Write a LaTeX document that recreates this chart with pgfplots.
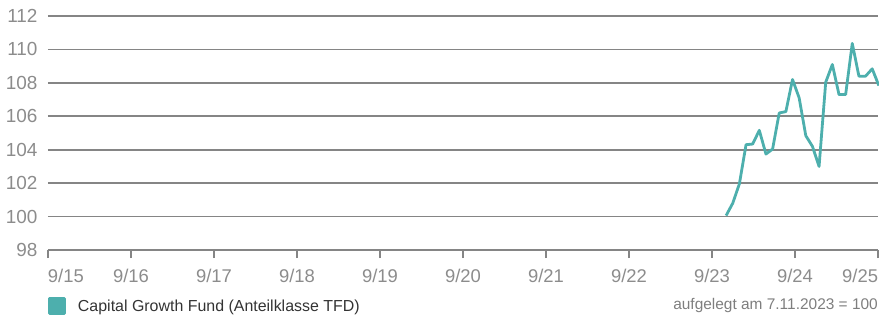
\documentclass[border=0pt]{standalone}
\usepackage{pgfplots}
\pgfplotsset{compat=1.18}
\usepackage{fontspec}
\setmainfont{Liberation Sans}
\usetikzlibrary{calc}
\definecolor{teal1}{HTML}{4DAFAD}
\definecolor{gridc}{HTML}{858585}
\definecolor{lblc}{HTML}{8C8C8C}
\definecolor{legc}{HTML}{333333}
\begin{document}
\begin{tikzpicture}
\begin{axis}[
  scale only axis, width=830bp, height=234bp,
  xmin=15, xmax=25, ymin=98, ymax=112,
  clip=false,
  axis line style={draw=none},
  tick pos=left, tick align=outside,
  major tick length=8bp,
  ytick={98,100,...,112},
  ytick style={draw=none},
  xtick={16,17,...,24},
  xticklabels={9/16,9/17,9/18,9/19,9/20,9/21,9/22,9/23,9/24},
  extra x ticks={15,25},
  extra x tick labels={\makebox[0pt][l]{9/15},\makebox[0pt][r]{9/25}},
  xtick style={gridc, line width=1.6bp},
  ymajorgrids,
  grid style={gridc, line width=1.6bp},
  /pgf/number format/assume math mode=true,
  yticklabel style={font=\fontsize{19}{19}\selectfont, text=lblc, xshift=1bp},
  xticklabel style={font=\fontsize{18.5}{18.5}\selectfont, text=lblc, yshift=-8bp},
  legend style={at={(rel axis cs:0,0)}, anchor=west, yshift=-56bp, xshift=0bp,
    draw=none, fill=none, inner sep=0pt, font=\fontsize{16}{16}\selectfont, text=legc,
    /tikz/every odd column/.append style={column sep=10bp}},
  legend cell align=left,
  legend image code/.code={\fill[teal1] (0bp,-7.5bp) rectangle (15bp,7.5bp);},
]
\addplot[teal1, line width=2.8bp, line join=round, no markers] table {
x y
23.17 100.06
23.25 100.8
23.33 101.96
23.41 104.3
23.49 104.34
23.57 105.16
23.65 103.74
23.73 104.04
23.81 106.2
23.89 106.28
23.97 108.2
24.05 107.1
24.13 104.84
24.21 104.2
24.29 103.0
24.37 108.04
24.45 109.1
24.53 107.3
24.61 107.3
24.69 110.36
24.77 108.4
24.85 108.4
24.93 108.84
25.01 107.84
};
\addlegendentry{Capital Growth Fund (Anteilklasse TFD)}
\coordinate (O) at (rel axis cs:0,0);
\node[anchor=east, inner sep=0pt, font=\fontsize{15.5}{15.5}\selectfont, text=lblc!90!black]
  at ([yshift=-56bp,xshift=0bp]rel axis cs:1,0) {aufgelegt am 7.11.2023 = 100};
\end{axis}
\pgfresetboundingbox
\path[use as bounding box] ($(O)+(-48bp,-68bp)$) rectangle ($(O)+(831bp,250bp)$);
\end{tikzpicture}
\end{document}
